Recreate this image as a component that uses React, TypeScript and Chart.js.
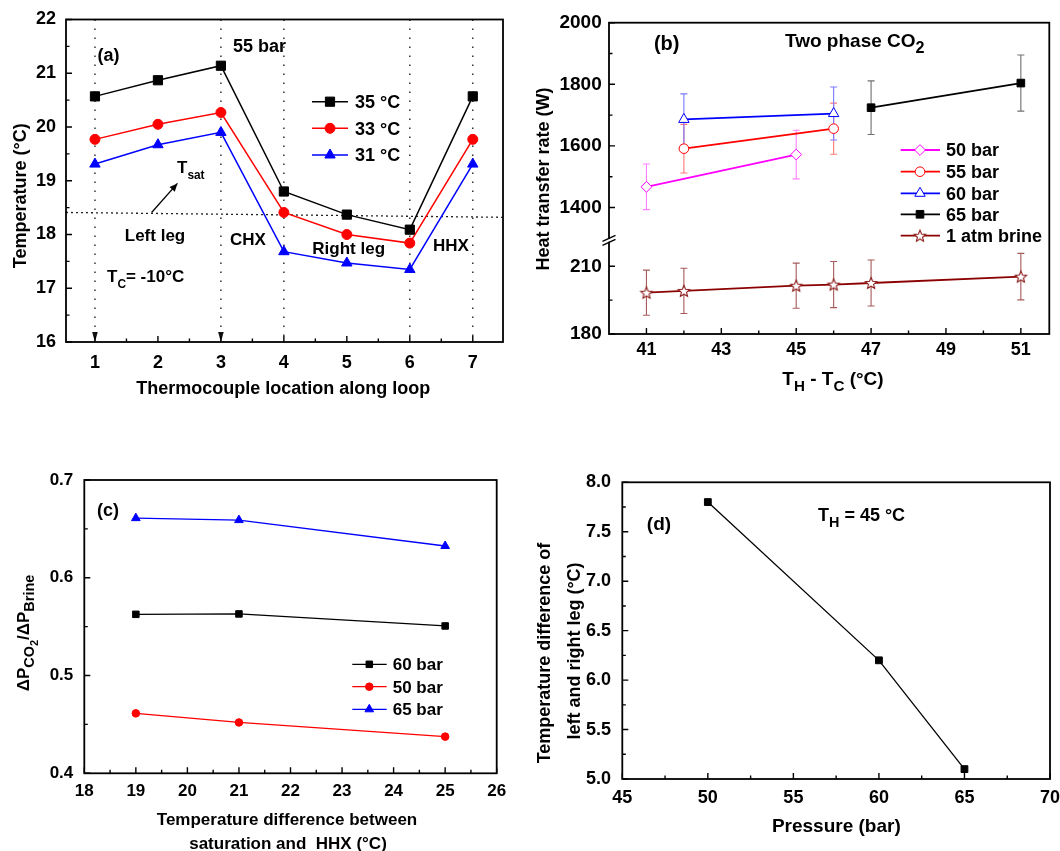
import React, { useEffect, useRef } from 'react';
import { Chart, registerables } from 'chart.js';

Chart.register(...registerables);

const FAMILY = "'Liberation Sans', Arial, Helvetica, sans-serif";
const W = 1060;
const H = 851;
const X_AXIS_H = 40;
const Y_AXIS_W = 60;

// ===================== Panel (a) data =====================
const aLocation = [1, 2, 3, 4, 5, 6, 7];
const aTemp35 = [20.57, 20.87, 21.14, 18.8, 18.37, 18.09, 20.57];
const aTemp33 = [19.77, 20.05, 20.27, 18.41, 18.0, 17.84, 19.77];
const aTemp31 = [19.31, 19.67, 19.9, 17.68, 17.47, 17.35, 19.31];
const aSeriesLabels = ['35 °C', '33 °C', '31 °C'];
const aXTicks = [1, 2, 3, 4, 5, 6, 7];
const aXMinor = [1.5, 2.5, 3.5, 4.5, 5.5, 6.5];
const aYTicks = [16, 17, 18, 19, 20, 21, 22];
const aYMinor = [16.5, 17.5, 18.5, 19.5, 20.5, 21.5];
const aDividerX = [1, 3, 4, 6, 7];
const aDividerArrowX = [1, 3];
const aTsatX = [0.54, 7.48];
const aTsatY = [18.41, 18.32];
const aArrowX = [1.9, 2.31];
const aArrowY = [18.41, 18.95];

// ===================== Panel (b) data =====================
const bDT50 = [41, 45];
const bQ50 = [1467, 1572];
const bErr50 = [74, 79];
const bDT55 = [42, 46];
const bQ55 = [1591, 1656];
const bErr55 = [79, 83];
const bDT60 = [42, 46];
const bQ60 = [1686, 1705];
const bErr60 = [83, 86];
const bDT65 = [47, 51];
const bQ65 = [1724, 1804];
const bErr65 = [87, 91];
const bDTBrine = [41, 42, 45, 46, 47, 51];
const bQBrine = [198.3, 199.1, 201.4, 201.9, 202.6, 205.4];
const bErrBrine = [10, 10, 10, 10.2, 10.2, 10.3];
const bSeriesLabels = ['50 bar', '55 bar', '60 bar', '65 bar', '1 atm brine'];
const bXTicks = [41, 43, 45, 47, 49, 51];
const bXMinor = [42, 44, 46, 48, 50];
const bYTicksHigh = [1400, 1600, 1800, 2000];
const bYMinorHigh = [1500, 1700, 1900];
const bYTicksLow = [180, 210];
const bYMinorLow = [195];

// ===================== Panel (c) data =====================
const cDeltaT = [19, 21, 25];
const cRatio60 = [0.5626, 0.563, 0.5507];
const cRatio50 = [0.4613, 0.452, 0.4375];
const cRatio65 = [0.661, 0.659, 0.6325];
const cSeriesLabels = ['60 bar', '50 bar', '65 bar'];
const cXTicks = [18, 19, 20, 21, 22, 23, 24, 25, 26];
const cXMinor = [18.5, 19.5, 20.5, 21.5, 22.5, 23.5, 24.5, 25.5];
const cYTicks = [0.4, 0.5, 0.6, 0.7];
const cYMinor = [0.45, 0.55, 0.65];

// ===================== Panel (d) data =====================
const dPressure = [50, 60, 65];
const dDeltaT = [7.8, 6.2, 5.1];
const dXTicks = [45, 50, 55, 60, 65, 70];
const dXMinor = [47.5, 52.5, 57.5, 62.5, 67.5];
const dYTicks = [5.0, 5.5, 6.0, 6.5, 7.0, 7.5, 8.0];
const dYMinor = [5.25, 5.75, 6.25, 6.75, 7.25, 7.75];

// ===================== helpers =====================
type Seg = { t: string; s?: number; dy?: number };
type TextItem = { x: number; y: number; size: number; segs: Seg[]; align?: 'left' | 'center'; rotate?: boolean };
type TickSpec = { id: string; major: number[]; minor: number[] };
type LegendItem = { label: string; color: string; style: any; radius: number; fill: string; pw: number; lw: number };
type LegendSpec = { x0: number; x1: number; xm: number; xt: number; ys: number[]; size: number; items: LegendItem[] };
type ErrSpec = { ds: number; err: number[]; color: string };
type Panel = {
  name: string;
  axisTicks: TickSpec[];
  texts: TextItem[];
  legend?: LegendSpec;
  errorBars?: ErrSpec[];
  under?: (chart: any, ctx: CanvasRenderingContext2D) => void;
  over?: (chart: any, ctx: CanvasRenderingContext2D) => void;
};

const txt = (t: string): Seg[] => [{ t }];
const font = (size: number) => `bold ${size}px ${FAMILY}`;

function drawText(ctx: CanvasRenderingContext2D, it: TextItem) {
  ctx.save();
  ctx.translate(it.x, it.y);
  if (it.rotate) ctx.rotate(-Math.PI / 2);
  let w = 0;
  for (const s of it.segs) {
    ctx.font = font(it.size * (s.s ?? 1));
    w += ctx.measureText(s.t).width;
  }
  let x = it.align === 'left' ? 0 : -w / 2;
  ctx.textAlign = 'left';
  ctx.textBaseline = 'alphabetic';
  ctx.fillStyle = '#000';
  const base = it.size * 0.36;
  for (const s of it.segs) {
    ctx.font = font(it.size * (s.s ?? 1));
    ctx.fillText(s.t, x, base + (s.dy ?? 0) * it.size);
    x += ctx.measureText(s.t).width;
  }
  ctx.restore();
}

function drawMarker(ctx: CanvasRenderingContext2D, style: any, x: number, y: number, r: number, fill: string, stroke: string, lw: number) {
  if (typeof style !== 'string') {
    ctx.drawImage(style, x - style.width / 2, y - style.height / 2);
    return;
  }
  ctx.save();
  ctx.beginPath();
  if (style === 'rect') {
    const s = r * Math.SQRT1_2;
    ctx.rect(x - s, y - s, 2 * s, 2 * s);
  } else if (style === 'circle') {
    ctx.arc(x, y, r, 0, Math.PI * 2);
  } else if (style === 'triangle') {
    for (let i = 0; i < 3; i++) {
      const a = (i * 2 * Math.PI) / 3;
      const px = x + Math.sin(a) * r;
      const py = y - Math.cos(a) * r;
      if (i === 0) ctx.moveTo(px, py);
      else ctx.lineTo(px, py);
    }
    ctx.closePath();
  } else if (style === 'rectRot') {
    ctx.moveTo(x - r, y);
    ctx.lineTo(x, y - r);
    ctx.lineTo(x + r, y);
    ctx.lineTo(x, y + r);
    ctx.closePath();
  }
  ctx.fillStyle = fill;
  ctx.fill();
  ctx.lineWidth = lw;
  ctx.strokeStyle = stroke;
  ctx.stroke();
  ctx.restore();
}

function drawLegend(ctx: CanvasRenderingContext2D, L: LegendSpec) {
  L.items.forEach((it, i) => {
    const y = L.ys[i];
    ctx.save();
    ctx.strokeStyle = it.color;
    ctx.lineWidth = it.lw;
    ctx.beginPath();
    ctx.moveTo(L.x0, y);
    ctx.lineTo(L.x1, y);
    ctx.stroke();
    ctx.restore();
    drawMarker(ctx, it.style, L.xm, y, it.radius, it.fill, it.color, it.pw);
    drawText(ctx, { x: L.xt, y, size: L.size, segs: txt(it.label), align: 'left' });
  });
}

function drawFrame(chart: any, ctx: CanvasRenderingContext2D, specs: TickSpec[]) {
  const a = chart.chartArea;
  ctx.save();
  ctx.strokeStyle = '#000';
  ctx.lineWidth = 1.8;
  ctx.strokeRect(a.left, a.top, a.right - a.left, a.bottom - a.top);
  ctx.lineWidth = 1.4;
  ctx.beginPath();
  for (const s of specs) {
    const sc = chart.scales[s.id];
    const horiz = sc.isHorizontal();
    const put = (v: number, len: number) => {
      const p = sc.getPixelForValue(v);
      if (horiz) {
        ctx.moveTo(p, a.bottom);
        ctx.lineTo(p, a.bottom - len);
      } else {
        ctx.moveTo(a.left, p);
        ctx.lineTo(a.left + len, p);
      }
    };
    s.major.forEach((v) => put(v, 6));
    s.minor.forEach((v) => put(v, 3.5));
  }
  ctx.stroke();
  ctx.restore();
}

function drawErrorBars(chart: any, ctx: CanvasRenderingContext2D, bars: ErrSpec[]) {
  ctx.save();
  for (const b of bars) {
    const meta = chart.getDatasetMeta(b.ds);
    const ys = chart.scales[meta.yAxisID];
    const ds = chart.data.datasets[b.ds];
    ctx.strokeStyle = b.color;
    ctx.lineWidth = 1.1;
    meta.data.forEach((pt: any, j: number) => {
      const v = ds.data[j].y;
      const top = ys.getPixelForValue(v + b.err[j]);
      const bot = ys.getPixelForValue(v - b.err[j]);
      const x = pt.x;
      ctx.beginPath();
      ctx.moveTo(x, top);
      ctx.lineTo(x, bot);
      ctx.moveTo(x - 3.5, top);
      ctx.lineTo(x + 3.5, top);
      ctx.moveTo(x - 3.5, bot);
      ctx.lineTo(x + 3.5, bot);
      ctx.stroke();
    });
  }
  ctx.restore();
}

function decoPlugin(p: Panel) {
  return {
    id: 'deco' + p.name,
    beforeDatasetsDraw(chart: any) {
      const ctx = chart.ctx;
      if (p.under) p.under(chart, ctx);
      if (p.errorBars) drawErrorBars(chart, ctx, p.errorBars);
    },
    afterDraw(chart: any) {
      const ctx = chart.ctx;
      drawFrame(chart, ctx, p.axisTicks);
      if (p.over) p.over(chart, ctx);
      for (const t of p.texts) drawText(ctx, t);
      if (p.legend) drawLegend(ctx, p.legend);
    },
  };
}

type Box = { l: number; t: number; r: number; b: number };
const padFor = (b: Box) => ({ left: b.l - Y_AXIS_W, top: b.t, right: W - b.r, bottom: H - b.b - X_AXIS_H });

function axis(o: {
  horizontal: boolean;
  min: number;
  max: number;
  ticks: number[];
  size: number;
  pad: number;
  fmt: (v: number) => string;
  extra?: any;
}) {
  return {
    type: 'linear',
    position: o.horizontal ? 'bottom' : 'left',
    min: o.min,
    max: o.max,
    grid: { display: false, drawTicks: false },
    border: { display: false },
    ticks: {
      font: { family: FAMILY, size: o.size, weight: 'bold' },
      color: '#000',
      padding: o.pad,
      autoSkip: false,
      maxRotation: 0,
      minRotation: 0,
      callback: (v: any) => o.fmt(Number(v)),
    },
    afterBuildTicks: (s: any) => {
      s.ticks = o.ticks.map((v) => ({ value: v }));
    },
    afterFit: (s: any) => {
      if (o.horizontal) {
        s.height = X_AXIS_H;
        s.paddingLeft = 0;
        s.paddingRight = 0;
      } else {
        s.width = Y_AXIS_W;
        s.paddingTop = 0;
        s.paddingBottom = 0;
      }
    },
    ...(o.extra || {}),
  };
}

function series(xs: number[], ys: number[], o: { color: string; style: any; radius: number; fill: string; lw: number; pw: number; yAxisID?: string; dash?: number[] }) {
  return {
    data: xs.map((x, i) => ({ x, y: ys[i] })),
    borderColor: o.color,
    backgroundColor: o.fill,
    borderWidth: o.lw,
    borderDash: o.dash || [],
    pointStyle: o.style,
    pointRadius: o.radius,
    pointHoverRadius: o.radius,
    pointBackgroundColor: o.fill,
    pointBorderColor: o.color,
    pointBorderWidth: o.pw,
    tension: 0,
    fill: false,
    clip: false,
    xAxisID: 'x',
    yAxisID: o.yAxisID || 'y',
  };
}

function makeStar(r: number, color: string) {
  const size = Math.ceil(r * 2 + 4);
  const c = document.createElement('canvas');
  c.width = size;
  c.height = size;
  const g = c.getContext('2d')!;
  const cx = size / 2;
  const cy = size / 2 + 0.5;
  g.beginPath();
  for (let i = 0; i < 10; i++) {
    const rr = i % 2 === 0 ? r : r * 0.45;
    const ang = -Math.PI / 2 + (i * Math.PI) / 5;
    const px = cx + Math.cos(ang) * rr;
    const py = cy + Math.sin(ang) * rr;
    if (i === 0) g.moveTo(px, py);
    else g.lineTo(px, py);
  }
  g.closePath();
  g.fillStyle = '#fff';
  g.fill();
  g.strokeStyle = color;
  g.lineWidth = 1.1;
  g.stroke();
  return c;
}

const baseOptions = (box: Box) => ({
  responsive: false,
  animation: false,
  events: [],
  layout: { padding: padFor(box) },
  plugins: { legend: { display: false }, tooltip: { enabled: false }, title: { display: false } },
});

// ===================== chart configs =====================
function configA(): any {
  const box = { l: 66, t: 19.5, r: 503, b: 342 };
  const st = [
    { color: '#000000', style: 'rect', radius: 6.5 },
    { color: '#ff0000', style: 'circle', radius: 5 },
    { color: '#0000ff', style: 'triangle', radius: 6 },
  ];
  const panel: Panel = {
    name: 'a',
    axisTicks: [
      { id: 'x', major: aXTicks, minor: aXMinor },
      { id: 'y', major: aYTicks, minor: aYMinor },
    ],
    texts: [
      { x: 108.5, y: 55, size: 18, segs: txt('(a)') },
      { x: 259.5, y: 46, size: 18, segs: txt('55 bar') },
      { x: 177, y: 167, size: 17, align: 'left', segs: [{ t: 'T' }, { t: 'sat', s: 0.7, dy: 0.35 }] },
      { x: 155, y: 235, size: 17, segs: txt('Left leg') },
      { x: 248, y: 239.3, size: 17, segs: txt('CHX') },
      { x: 348.7, y: 248.3, size: 17, segs: txt('Right leg') },
      { x: 451, y: 245, size: 17, segs: txt('HHX') },
      { x: 107, y: 276, size: 17, align: 'left', segs: [{ t: 'T' }, { t: 'C', s: 0.7, dy: 0.35 }, { t: '= -10°C' }] },
      { x: 20, y: 195.7, size: 18, rotate: true, segs: txt('Temperature (°C)') },
      { x: 283.3, y: 388, size: 18, segs: txt('Thermocouple location along loop') },
    ],
    legend: {
      x0: 312, x1: 348, xm: 330, xt: 355, ys: [101.7, 128.3, 155], size: 18,
      items: st.map((s, i) => ({ label: aSeriesLabels[i], color: s.color, style: s.style, radius: s.radius, fill: s.color, pw: 1, lw: 1.5 })),
    },
    under: (chart, ctx) => {
      const xs = chart.scales.x;
      const ys = chart.scales.y;
      const a = chart.chartArea;
      ctx.save();
      ctx.strokeStyle = '#333';
      ctx.lineWidth = 1.5;
      ctx.setLineDash([1.5, 7.5]);
      for (const v of aDividerX) {
        const p = xs.getPixelForValue(v);
        ctx.beginPath();
        ctx.moveTo(p, a.top);
        ctx.lineTo(p, a.bottom);
        ctx.stroke();
      }
      ctx.setLineDash([]);
      ctx.fillStyle = '#111';
      for (const v of aDividerArrowX) {
        const p = xs.getPixelForValue(v);
        ctx.beginPath();
        ctx.moveTo(p - 2.8, a.bottom - 10);
        ctx.lineTo(p + 2.8, a.bottom - 10);
        ctx.lineTo(p, a.bottom);
        ctx.closePath();
        ctx.fill();
      }
      const x0 = xs.getPixelForValue(aArrowX[0]);
      const y0 = ys.getPixelForValue(aArrowY[0]);
      const x1 = xs.getPixelForValue(aArrowX[1]);
      const y1 = ys.getPixelForValue(aArrowY[1]);
      ctx.strokeStyle = '#000';
      ctx.lineWidth = 1.3;
      ctx.beginPath();
      ctx.moveTo(x0, y0);
      ctx.lineTo(x1, y1);
      ctx.stroke();
      const ang = Math.atan2(y1 - y0, x1 - x0);
      const hl = 8;
      const hw = 3.5;
      ctx.beginPath();
      ctx.moveTo(x1, y1);
      ctx.lineTo(x1 - hl * Math.cos(ang) + hw * Math.sin(ang), y1 - hl * Math.sin(ang) - hw * Math.cos(ang));
      ctx.lineTo(x1 - hl * Math.cos(ang) - hw * Math.sin(ang), y1 - hl * Math.sin(ang) + hw * Math.cos(ang));
      ctx.closePath();
      ctx.fillStyle = '#000';
      ctx.fill();
      ctx.restore();
    },
  };
  const ys = [aTemp35, aTemp33, aTemp31];
  return {
    type: 'line',
    data: {
      datasets: [
        ...st.map((s, i) => series(aLocation, ys[i], { color: s.color, style: s.style, radius: s.radius, fill: s.color, lw: 1.5, pw: 1 })),
        series(aTsatX, aTsatY, { color: '#222', style: 'circle', radius: 0, fill: '#222', lw: 1.3, pw: 0, dash: [2, 3] }),
      ],
    },
    options: {
      ...baseOptions(box),
      scales: {
        x: axis({ horizontal: true, min: 0.54, max: 7.48, ticks: aXTicks, size: 18, pad: 9.9, fmt: (v) => String(v) }),
        y: axis({ horizontal: false, min: 16, max: 22, ticks: aYTicks, size: 18, pad: 10, fmt: (v) => String(v) }),
      },
    },
    plugins: [decoPlugin(panel)],
  };
}

function configB(star: HTMLCanvasElement): any {
  const box = { l: 609, t: 22.7, r: 1049.3, b: 334 };
  const st = [
    { color: '#ff00ff', style: 'rectRot', radius: 5.4, err: '#ff80ff' },
    { color: '#ff0000', style: 'circle', radius: 4.8, err: '#ff7a7a' },
    { color: '#0000ff', style: 'triangle', radius: 6, err: '#7a7aff' },
    { color: '#000000', style: 'rect', radius: 5.4, err: '#707070' },
    { color: '#8b0000', style: star, radius: 6, err: '#a85a5a' },
  ];
  const xs = [bDT50, bDT55, bDT60, bDT65, bDTBrine];
  const qs = [bQ50, bQ55, bQ60, bQ65, bQBrine];
  const es = [bErr50, bErr55, bErr60, bErr65, bErrBrine];
  const panel: Panel = {
    name: 'b',
    axisTicks: [
      { id: 'x', major: bXTicks, minor: bXMinor },
      { id: 'yHigh', major: bYTicksHigh, minor: bYMinorHigh },
      { id: 'yLow', major: bYTicksLow, minor: bYMinorLow },
    ],
    texts: [
      { x: 666.7, y: 42.7, size: 20, segs: txt('(b)') },
      { x: 785, y: 40, size: 19, align: 'left', segs: [{ t: 'Two phase CO' }, { t: '2', s: 0.85, dy: 0.32 }] },
      { x: 542.5, y: 179, size: 18, rotate: true, segs: txt('Heat transfer rate (W)') },
      {
        x: 833, y: 378.3, size: 19,
        segs: [{ t: 'T' }, { t: 'H', s: 0.8, dy: 0.3 }, { t: ' - T' }, { t: 'C', s: 0.8, dy: 0.3 }, { t: ' (°C)' }],
      },
    ],
    legend: {
      x0: 900.7, x1: 940, xm: 920, xt: 946, ys: [150, 171.7, 193.3, 214.3, 235.7], size: 18,
      items: st.map((s, i) => ({
        label: bSeriesLabels[i], color: s.color, style: s.style, radius: s.radius,
        fill: i === 3 ? '#000' : '#fff', pw: 1, lw: 1.8,
      })),
    },
    errorBars: st.map((s, i) => ({ ds: i, err: es[i], color: s.err })),
    over: (chart, ctx) => {
      const a = chart.chartArea;
      const yb = chart.scales.yHigh.bottom;
      const L = a.left;
      ctx.save();
      ctx.fillStyle = '#fff';
      ctx.fillRect(L - 2, yb + 0.6, 4, 2.8);
      ctx.strokeStyle = '#000';
      ctx.lineWidth = 1.4;
      ctx.beginPath();
      ctx.moveTo(L - 6.5, yb + 3);
      ctx.lineTo(L + 6.5, yb - 3);
      ctx.moveTo(L - 6.5, yb + 7);
      ctx.lineTo(L + 6.5, yb + 1);
      ctx.stroke();
      ctx.restore();
    },
  };
  return {
    type: 'line',
    data: {
      datasets: st.map((s, i) =>
        series(xs[i], qs[i], {
          color: s.color, style: s.style, radius: s.radius, fill: i === 3 ? '#000' : '#fff',
          lw: 1.8, pw: 1, yAxisID: i === 4 ? 'yLow' : 'yHigh',
        })
      ),
    },
    options: {
      ...baseOptions(box),
      scales: {
        x: axis({ horizontal: true, min: 40, max: 51.76, ticks: bXTicks, size: 18, pad: 5.2, fmt: (v) => String(v) }),
        yLow: axis({
          horizontal: false, min: 180, max: 222.4, ticks: bYTicksLow, size: 19, pad: 7.3, fmt: (v) => String(v),
          extra: { stack: 'b', stackWeight: 95.7 },
        }),
        yHigh: axis({
          horizontal: false, min: 1300, max: 2000, ticks: bYTicksHigh, size: 19, pad: 7.3, fmt: (v) => String(v),
          extra: { stack: 'b', stackWeight: 215.6 },
        }),
      },
    },
    plugins: [decoPlugin(panel)],
  };
}

function configC(): any {
  const box = { l: 84.3, t: 480, r: 496.7, b: 773.3 };
  const st = [
    { color: '#000000', style: 'rect', radius: 4.6 },
    { color: '#ff0000', style: 'circle', radius: 3.8 },
    { color: '#0000ff', style: 'triangle', radius: 5 },
  ];
  const ys = [cRatio60, cRatio50, cRatio65];
  const panel: Panel = {
    name: 'c',
    axisTicks: [
      { id: 'x', major: cXTicks, minor: cXMinor },
      { id: 'y', major: cYTicks, minor: cYMinor },
    ],
    texts: [
      { x: 108, y: 509.3, size: 18, segs: txt('(c)') },
      {
        x: 23, y: 633, size: 17, rotate: true,
        segs: [{ t: 'ΔP' }, { t: 'CO', s: 0.85, dy: 0.3 }, { t: '2', s: 0.65, dy: 0.5 }, { t: '/ΔP' }, { t: 'Brine', s: 0.85, dy: 0.3 }],
      },
      { x: 287, y: 819, size: 17, segs: txt('Temperature difference between') },
      { x: 288, y: 843, size: 17, segs: txt('saturation and  HHX (°C)') },
    ],
    legend: {
      x0: 352.3, x1: 386.7, xm: 369.3, xt: 392.7, ys: [664.3, 686.7, 709.3], size: 17,
      items: st.map((s, i) => ({ label: cSeriesLabels[i], color: s.color, style: s.style, radius: s.radius, fill: s.color, pw: 1, lw: 1.3 })),
    },
  };
  return {
    type: 'line',
    data: {
      datasets: st.map((s, i) => series(cDeltaT, ys[i], { color: s.color, style: s.style, radius: s.radius, fill: s.color, lw: 1.3, pw: 1 })),
    },
    options: {
      ...baseOptions(box),
      scales: {
        x: axis({ horizontal: true, min: 18, max: 26, ticks: cXTicks, size: 17, pad: 8.2, fmt: (v) => String(v) }),
        y: axis({ horizontal: false, min: 0.4, max: 0.7, ticks: cYTicks, size: 17, pad: 11, fmt: (v) => v.toFixed(1) }),
      },
    },
    plugins: [decoPlugin(panel)],
  };
}

function configD(): any {
  const box = { l: 622.3, t: 482.3, r: 1050, b: 779 };
  const panel: Panel = {
    name: 'd',
    axisTicks: [
      { id: 'x', major: dXTicks, minor: dXMinor },
      { id: 'y', major: dYTicks, minor: dYMinor },
    ],
    texts: [
      { x: 659, y: 522.7, size: 19, segs: txt('(d)') },
      { x: 818, y: 515, size: 18, align: 'left', segs: [{ t: 'T' }, { t: 'H', s: 0.8, dy: 0.3 }, { t: ' = 45 °C' }] },
      { x: 544, y: 653, size: 18, rotate: true, segs: txt('Temperature difference of') },
      { x: 574, y: 651, size: 18, rotate: true, segs: txt('left and right leg (°C)') },
      { x: 836.3, y: 825, size: 19, segs: txt('Pressure (bar)') },
    ],
  };
  return {
    type: 'line',
    data: {
      datasets: [series(dPressure, dDeltaT, { color: '#000', style: 'rect', radius: 4.8, fill: '#000', lw: 1.3, pw: 1 })],
    },
    options: {
      ...baseOptions(box),
      scales: {
        x: axis({ horizontal: true, min: 45, max: 70, ticks: dXTicks, size: 18, pad: 8.5, fmt: (v) => String(v) }),
        y: axis({ horizontal: false, min: 5, max: 8, ticks: dYTicks, size: 18, pad: 11.3, fmt: (v) => v.toFixed(1) }),
      },
    },
    plugins: [decoPlugin(panel)],
  };
}

export default function App() {
  const r1 = useRef<HTMLCanvasElement>(null);
  const r2 = useRef<HTMLCanvasElement>(null);
  const r3 = useRef<HTMLCanvasElement>(null);
  const r4 = useRef<HTMLCanvasElement>(null);

  useEffect(() => {
    const star = makeStar(6, '#8b1a1a');
    const charts = [
      new Chart(r1.current!, configA()),
      new Chart(r2.current!, configB(star)),
      new Chart(r3.current!, configC()),
      new Chart(r4.current!, configD()),
    ];
    return () => charts.forEach((c) => c.destroy());
  }, []);

  const cs: React.CSSProperties = { position: 'absolute', left: 0, top: 0 };
  return (
    <div style={{ position: 'absolute', left: 0, top: 0, width: W, height: H, background: '#fff', overflow: 'hidden' }}>
      <canvas ref={r1} width={W} height={H} style={cs} />
      <canvas ref={r2} width={W} height={H} style={cs} />
      <canvas ref={r3} width={W} height={H} style={cs} />
      <canvas ref={r4} width={W} height={H} style={cs} />
    </div>
  );
}
